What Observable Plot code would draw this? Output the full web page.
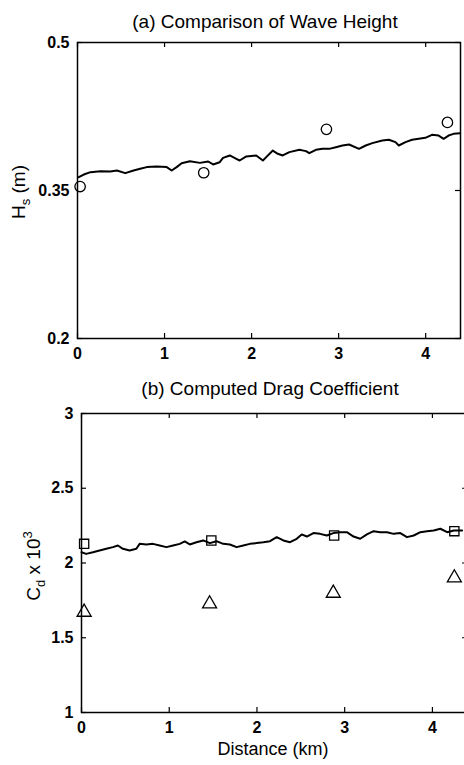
<!DOCTYPE html>
<html><head><meta charset="utf-8">
<script src="https://cdn.jsdelivr.net/npm/d3@7"></script>
<script src="https://cdn.jsdelivr.net/npm/@observablehq/plot@0.6"></script>
<style>html,body{margin:0;background:#fff;overflow:hidden;} #chart{width:464px;overflow:hidden;} #chart svg{display:block;max-width:none;}</style>
</head><body><div id="chart"></div>
<script>
// ---- Data ----
const xTicks = [0, 1, 2, 3, 4];
const hsTicks = [0.2, 0.35, 0.5];
const cdTicks = [1, 1.5, 2, 2.5, 3];

// (a) modelled significant wave height (line)
const hsLineX = [0.015,0.072,0.149,0.263,0.377,0.453,0.549,0.644,0.72,0.796,0.91,1.025,1.082,1.139,1.196,1.291,1.406,1.501,1.558,1.634,1.672,1.749,1.825,1.863,1.939,2.053,2.13,2.168,2.244,2.301,2.358,2.434,2.549,2.625,2.663,2.739,2.815,2.891,2.968,3.044,3.12,3.234,3.311,3.387,3.501,3.577,3.653,3.691,3.768,3.844,3.92,3.996,4.072,4.149,4.206,4.263,4.32,4.396];
const hsLineY = [0.3635,0.3662,0.3686,0.3696,0.3693,0.3703,0.3676,0.3703,0.372,0.3737,0.3743,0.3737,0.3703,0.3737,0.3777,0.3797,0.378,0.3794,0.3764,0.3787,0.3831,0.3855,0.3821,0.3804,0.3845,0.3855,0.3804,0.3838,0.3905,0.3872,0.3855,0.3889,0.3912,0.3899,0.3878,0.3912,0.3922,0.3922,0.3939,0.3956,0.3966,0.3922,0.3956,0.398,0.4007,0.4014,0.399,0.3956,0.399,0.4014,0.4024,0.4034,0.4064,0.4057,0.4024,0.4057,0.4074,0.4081];
// (a) measured wave height (circles)
const hsObsX = [0.03, 1.45, 2.86, 4.25];
const hsObsY = [0.354, 0.368, 0.412, 0.419];

// (b) computed drag coefficient (line)
const cdLineX = [0,0.053,0.13,0.206,0.282,0.358,0.415,0.472,0.549,0.625,0.663,0.739,0.815,0.891,0.968,1.044,1.12,1.177,1.234,1.31,1.387,1.463,1.539,1.615,1.691,1.768,1.844,1.92,1.996,2.073,2.149,2.225,2.301,2.377,2.453,2.51,2.568,2.644,2.72,2.796,2.872,2.949,3.025,3.101,3.177,3.253,3.33,3.406,3.482,3.558,3.634,3.71,3.787,3.863,3.939,4.015,4.091,4.168,4.244,4.339];
const cdLineY = [2.072,2.061,2.072,2.084,2.095,2.106,2.117,2.095,2.084,2.095,2.128,2.124,2.128,2.117,2.106,2.117,2.128,2.144,2.124,2.139,2.151,2.133,2.146,2.128,2.124,2.106,2.117,2.128,2.133,2.139,2.146,2.173,2.151,2.139,2.162,2.191,2.177,2.2,2.195,2.184,2.2,2.206,2.206,2.177,2.162,2.191,2.213,2.206,2.206,2.195,2.2,2.173,2.184,2.206,2.213,2.217,2.229,2.206,2.217,2.217];
// (b) squares and triangles
const cdSquareX = [0.03, 1.48, 2.88, 4.25];
const cdSquareY = [2.128, 2.151, 2.184, 2.213];
const cdTriX = [0.03, 1.46, 2.87, 4.25];
const cdTriY = [1.671, 1.727, 1.798, 1.901];

// ---- Drawing ----
const FONT = "'Liberation Sans', Arial, Helvetica, sans-serif";
const zip = (xs, ys) => xs.map((x, i) => ({x, y: ys[i]}));

function panel({width, height, mt, mb, ml, mr, yDomain, yTicks, marks}) {
  const fw = width - ml - mr, fh = height - mt - mb, tl = 5;
  return Plot.plot({
    width, height,
    marginTop: mt, marginBottom: mb, marginLeft: ml, marginRight: mr,
    style: {fontFamily: FONT, fontSize: "16px", fontWeight: "bold", color: "black", background: "white"},
    x: {domain: [0, 4.4], ticks: xTicks, tickSize: 0, tickPadding: 9, tickFormat: d => String(d), label: null},
    y: {domain: yDomain, ticks: yTicks, tickSize: 0, tickPadding: 8, tickFormat: d => String(d), label: null},
    marks: [
      Plot.tickX(xTicks, {x: d => d, insetTop: fh - tl, stroke: "black", strokeWidth: 1.2}),
      Plot.tickX(xTicks, {x: d => d, insetBottom: fh - tl, stroke: "black", strokeWidth: 1.2}),
      Plot.tickY(yTicks, {y: d => d, insetRight: fw - tl, stroke: "black", strokeWidth: 1.2}),
      Plot.tickY(yTicks, {y: d => d, insetLeft: fw - tl, stroke: "black", strokeWidth: 1.2}),
      ...marks,
      Plot.frame({stroke: "black", strokeWidth: 1.5})
    ]
  });
}

const pa = panel({
  width: 464, height: 370, mt: 42, mb: 32, ml: 77, mr: 4,
  yDomain: [0.2, 0.5], yTicks: hsTicks,
  marks: [
    Plot.line(zip(hsLineX, hsLineY), {x: "x", y: "y", stroke: "black", strokeWidth: 2}),
    Plot.dot(zip(hsObsX, hsObsY), {x: "x", y: "y", r: 5.2, symbol: "circle", stroke: "black", strokeWidth: 1.3, fill: "white"})
  ]
});

const pb = panel({
  width: 468, height: 395, mt: 43, mb: 53, ml: 81, mr: 1,
  yDomain: [1, 3], yTicks: cdTicks,
  marks: [
    Plot.line(zip(cdLineX, cdLineY), {x: "x", y: "y", stroke: "black", strokeWidth: 2}),
    Plot.dot(zip(cdSquareX, cdSquareY), {x: "x", y: "y", r: 5.2, symbol: "square", stroke: "black", strokeWidth: 1.3, fill: "none"}),
    Plot.dot(zip(cdTriX, cdTriY), {x: "x", y: "y", r: 5.2, symbol: "triangle", stroke: "black", strokeWidth: 1.3, fill: "white"})
  ]
});

const chart = document.getElementById("chart");
chart.appendChild(pa);
chart.appendChild(pb);

function addText(svg, {x, y, size = 19, weight = "normal", rotate = 0}) {
  return d3.select(svg).append("text")
    .attr("transform", `translate(${x},${y}) rotate(${rotate})`)
    .attr("text-anchor", "middle")
    .attr("font-family", FONT)
    .attr("font-size", size)
    .attr("font-weight", weight)
    .attr("fill", "black");
}

// titles
addText(pa, {x: 265, y: 28}).text("(a) Comparison of Wave Height");
addText(pb, {x: 270, y: 25}).text("(b) Computed Drag Coefficient");

// y label (a): H_s (m)
{
  const t = addText(pa, {x: 25, y: 192, rotate: -90});
  t.append("tspan").text("H");
  t.append("tspan").attr("font-size", 13).attr("dy", 5).text("s");
  t.append("tspan").attr("dy", -5).text(" (m)");
}
// y label (b): C_d x 10^3
{
  const t = addText(pb, {x: 40, y: 196, rotate: -90});
  t.append("tspan").text("C");
  t.append("tspan").attr("font-size", 13).attr("dy", 5).text("d");
  t.append("tspan").attr("dy", -5).text(" x 10");
  t.append("tspan").attr("font-size", 13).attr("dy", -8).text("3");
}
// x label
addText(pb, {x: 273, y: 385, size: 18}).text("Distance (km)");
</script>
</body></html>
